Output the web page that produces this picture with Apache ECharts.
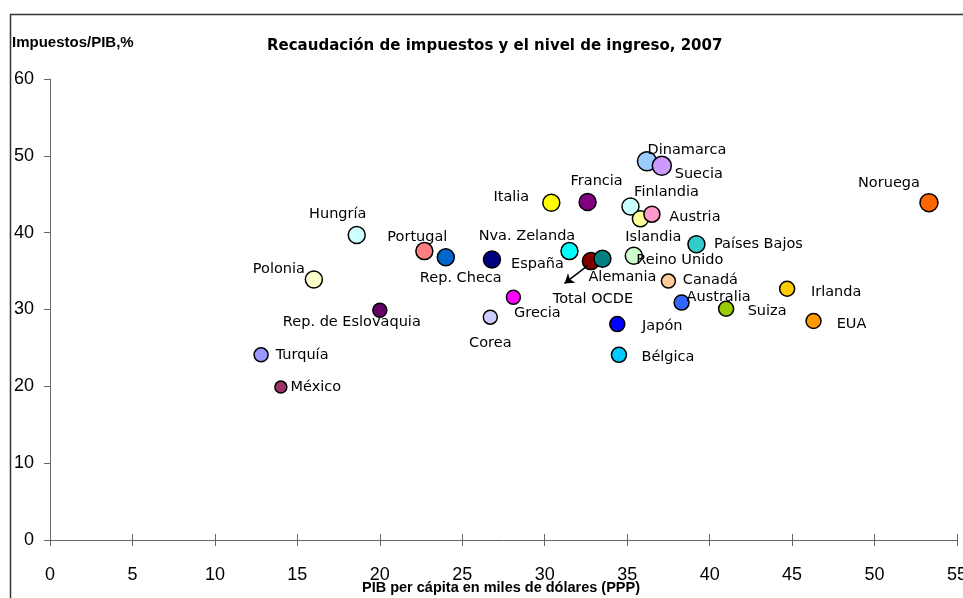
<!DOCTYPE html>
<html>
<head>
<meta charset="utf-8">
<script src="https://cdn.jsdelivr.net/npm/echarts@6/dist/echarts.min.js"></script>
<style>
  html, body { margin: 0; padding: 0; background: #fff; }
  #chart { width: 963px; height: 598px; }
</style>
</head>
<body>
<div id="chart"></div>
<script>
// Tax revenue vs. income level, OECD countries, 2007
const countries = ['Dinamarca', 'Suecia', 'Francia', 'Italia', 'Finlandia', 'Islandia', 'Austria',
  'Noruega', 'Hungría', 'Portugal', 'Rep. Checa', 'Nva. Zelanda', 'España', 'Total OCDE', 'Alemania',
  'Reino Unido', 'Países Bajos', 'Canadá', 'Irlanda', 'Australia', 'Suiza', 'EUA', 'Japón', 'Bélgica',
  'Grecia', 'Corea', 'Polonia', 'Rep. de Eslovaquia', 'Turquía', 'México'];
// GDP per capita, thousands of PPP dollars
const gdpPerCapita = [36.2, 37.1, 32.6, 30.4, 35.2, 35.8, 36.5,
  53.3, 18.6, 22.7, 24.0, 26.8, 31.5, 32.8, 33.5,
  35.4, 39.2, 37.5, 44.7, 38.3, 41.0, 46.3, 34.4, 34.5,
  28.1, 26.7, 16.0, 20.0, 12.8, 14.0];
// Tax revenue, % of GDP
const taxShare = [49.3, 48.7, 44.0, 43.9, 43.4, 41.8, 42.4,
  43.9, 39.7, 37.6, 36.8, 36.5, 37.6, 36.3, 36.6,
  37.0, 38.5, 33.7, 32.7, 30.9, 30.1, 28.5, 28.1, 24.1,
  31.6, 29.0, 33.9, 29.9, 24.1, 19.9];
const xTicks = [0, 5, 10, 15, 20, 25, 30, 35, 40, 45, 50, 55];
const yTicks = [0, 10, 20, 30, 40, 50, 60];

// Marker fill per country
const fills = ['#99CCFF', '#CC99FF', '#800080', '#FFFF00', '#CCFFFF', '#FFFF99', '#FF99CC',
  '#FF6600', '#CCFFFF', '#FF8080', '#0066CC', '#000080', '#00FFFF', '#800000', '#008080',
  '#CCFFCC', '#33CCCC', '#FFCC99', '#FFCC00', '#3366FF', '#99CC00', '#FF9900', '#0000FF', '#00CCFF',
  '#FF00FF', '#CCCCFF', '#FFFFCC', '#660066', '#9999FF', '#993366'];
// Marker diameters
const sizes = [19, 19, 17, 17, 17, 16, 16,
  18, 17, 17, 17, 17, 17, 17, 17,
  17, 17, 14, 15, 15, 15, 15, 15, 15,
  14, 14, 17, 14, 14, 12];
// Label centre offset from the marker, px
const labelOffsets = [[40, -11], [37, 8], [9, -21], [-40, -5], [36, -14], [13, 18], [43, 3],
  [-40, -19], [-19, -21], [-7, -14], [15, 21], [35, -23], [-32, 13], [2, 38], [20, 18],
  [46, 5], [62, 0], [42, -1], [49, 3], [37, -5], [41, 3], [38, 3], [45, 2], [49, 2],
  [24, 16], [0, 26], [-35, -10], [-28, 12], [41, 0], [35, 0]];

const points = countries.map((name, i) => ({
  name: name,
  value: [gdpPerCapita[i], taxShare[i]],
  symbolSize: sizes[i],
  itemStyle: { color: fills[i] },
  label: { offset: labelOffsets[i] }
}));

const oecdIdx = countries.indexOf('Total OCDE');

const xRange = { type: 'value', min: xTicks[0], max: xTicks[xTicks.length - 1], interval: 5 };

const chart = echarts.init(document.getElementById('chart'), null, { renderer: 'canvas' });
chart.setOption({
  backgroundColor: '#fff',
  animation: false,
  title: {
    text: 'Recaudación de impuestos y el nivel de ingreso, 2007',
    left: 262, top: 34,
    textStyle: { fontFamily: 'DejaVu Sans', fontWeight: 'bold', fontSize: 15, color: '#000' }
  },
  graphic: [
    { type: 'rect', left: 8, top: 12, shape: { width: 1000, height: 700 },
      style: { fill: 'none', stroke: '#333', lineWidth: 1.5 }, silent: true },
    { type: 'text', left: 12, top: 35,
      style: { text: 'Impuestos/PIB,%', font: 'bold 15px "Liberation Sans"', fill: '#000' } },
    { type: 'text', left: 362, top: 580,
      style: { text: 'PIB per cápita en miles de dólares (PPP)', font: 'bold 14.5px "Liberation Sans"', fill: '#000' } }
  ],
  grid: { left: 50, right: 6, top: 79, bottom: 58, outerBoundsMode: 'none', containLabel: false },
  xAxis: [
    Object.assign({}, xRange, {
      splitLine: { show: false },
      axisLine: { show: true, lineStyle: { color: '#666', width: 1 } },
      axisTick: { show: true, length: 6, lineStyle: { color: '#666' } },
      axisLabel: { color: '#000', fontFamily: 'Liberation Sans', fontSize: 18, margin: 26 }
    }),
    Object.assign({}, xRange, {
      position: 'bottom', offset: 0,
      splitLine: { show: false },
      axisLine: { show: false },
      axisTick: { show: true, inside: true, length: 6, lineStyle: { color: '#666' } },
      axisLabel: { show: false }
    })
  ],
  yAxis: {
    type: 'value', min: yTicks[0], max: yTicks[yTicks.length - 1], interval: 10,
    splitLine: { show: false },
    axisLine: { show: true, lineStyle: { color: '#666', width: 1 } },
    axisTick: { show: true, length: 6, lineStyle: { color: '#666' } },
    axisLabel: { color: '#000', fontFamily: 'Liberation Sans', fontSize: 18, margin: 16, align: 'right' }
  },
  series: [{
    type: 'scatter',
    xAxisIndex: 0,
    data: points,
    itemStyle: { borderColor: '#000', borderWidth: 1.5, opacity: 1 },
    label: {
      show: true, position: 'inside', formatter: '{b}',
      fontFamily: 'DejaVu Sans', fontSize: 14.5, color: '#000'
    },
    emphasis: { disabled: true },
    markLine: {
      silent: true, symbol: ['none', 'arrow'], symbolSize: 9,
      label: { show: false },
      lineStyle: { color: '#000', width: 1.5, type: 'solid' },
      data: [[
        { coord: [gdpPerCapita[oecdIdx] - 0.2, taxShare[oecdIdx] - 0.6] },
        { coord: [gdpPerCapita[oecdIdx] - 1.6, taxShare[oecdIdx] - 2.9] }
      ]]
    }
  }]
});
</script>
</body>
</html>
